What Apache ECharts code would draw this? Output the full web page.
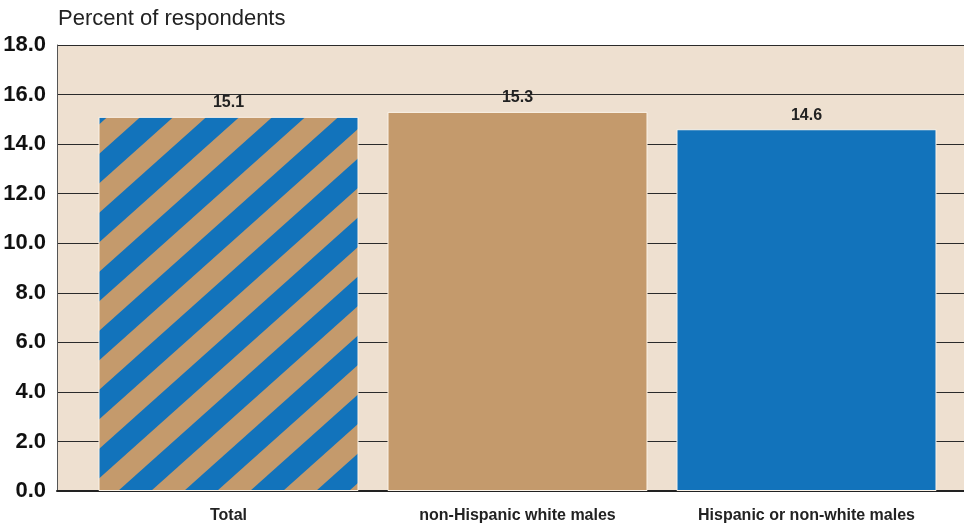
<!DOCTYPE html>
<html>
<head>
<meta charset="utf-8">
<script src="https://cdn.jsdelivr.net/npm/echarts@6/dist/echarts.min.js"></script>
<style>html,body{margin:0;padding:0;background:#fff;}#c{width:964px;height:525px;}</style>
</head>
<body>
<div id="c"></div>
<script>
const categories = ['Total', 'non-Hispanic white males', 'Hispanic or non-white males'];
const values = [15.1, 15.3, 14.6];
const yTicks = [0, 2, 4, 6, 8, 10, 12, 14, 16, 18];
const titleText = 'Percent of respondents';

const BLUE = '#1273bb', TAN = '#c49a6c', BG = '#eee0d0';
const BOLDF = '"Liberation Sans",Arial,sans-serif';

// striped pattern tile
function stripeTile() {
  const W = 66, H = 59, f0 = 0.11;
  const cv = document.createElement('canvas');
  cv.width = W; cv.height = H;
  const ctx = cv.getContext('2d');
  ctx.fillStyle = TAN; ctx.fillRect(0, 0, W, H);
  ctx.fillStyle = BLUE;
  for (let k = -2; k <= 3; k++) {
    const c = f0 + k;
    ctx.beginPath();
    ctx.moveTo(W * c, 0);
    ctx.lineTo(W * (c + 0.5), 0);
    ctx.lineTo(W * (c - 0.5), H);
    ctx.lineTo(W * (c - 1), H);
    ctx.closePath();
    ctx.fill();
  }
  return cv;
}
const stripe = { image: stripeTile(), repeat: 'repeat' };
const barColors = [stripe, TAN, BLUE];

const chart = echarts.init(document.getElementById('c'), null, { renderer: 'canvas' });
chart.setOption({
  animation: false,
  backgroundColor: '#fff',
  title: {
    text: titleText, left: 53, top: 3,
    textStyle: { fontFamily: '"Liberation Sans",Arial,sans-serif', fontSize: 22, fontWeight: 'normal', color: '#222' }
  },
  grid: [
    { left: 57, top: 45, width: 907, bottom: 34, show: true, backgroundColor: BG, borderWidth: 0, outerBoundsMode: 'none', containLabel: false },
    { left: 84, top: 45, width: 867, bottom: 34, outerBoundsMode: 'none', containLabel: false }
  ],
  xAxis: [
    { gridIndex: 0, type: 'value', min: 0, max: 1, axisLabel: { show: false }, axisTick: { show: false },
      splitLine: { show: false }, axisLine: { show: true, lineStyle: { color: '#222', width: 2 } } },
    { gridIndex: 1, type: 'category', data: categories, axisLine: { show: false }, axisTick: { show: false },
      axisLabel: { interval: 0, margin: 17, fontFamily: BOLDF, fontWeight: 'bold', fontSize: 16, color: '#222' } }
  ],
  yAxis: [
    { gridIndex: 0, type: 'value', min: yTicks[0], max: yTicks[yTicks.length - 1], interval: 2,
      axisLine: { show: true, lineStyle: { color: '#555', width: 1 } }, axisTick: { show: false },
      splitLine: { show: true, lineStyle: { color: '#2a2a2a', width: 1.2 } },
      axisLabel: { margin: 11, fontFamily: BOLDF, fontWeight: 'bold', fontSize: 22, color: '#111',
        formatter: v => v.toFixed(1) } },
    { gridIndex: 1, type: 'value', min: 0, max: 18, show: false }
  ],
  series: [{
    type: 'bar', xAxisIndex: 1, yAxisIndex: 1, barWidth: 260,
    data: values.map((v, i) => ({ value: v, itemStyle: { color: barColors[i] } })),
    itemStyle: { borderColor: '#fbf3e8', borderWidth: 1 },
    label: { show: true, position: 'top', distance: 6, fontFamily: BOLDF, fontWeight: 'bold', fontSize: 16, color: '#222',
      formatter: p => p.value.toFixed(1) }
  }]
});
</script>
</body>
</html>
